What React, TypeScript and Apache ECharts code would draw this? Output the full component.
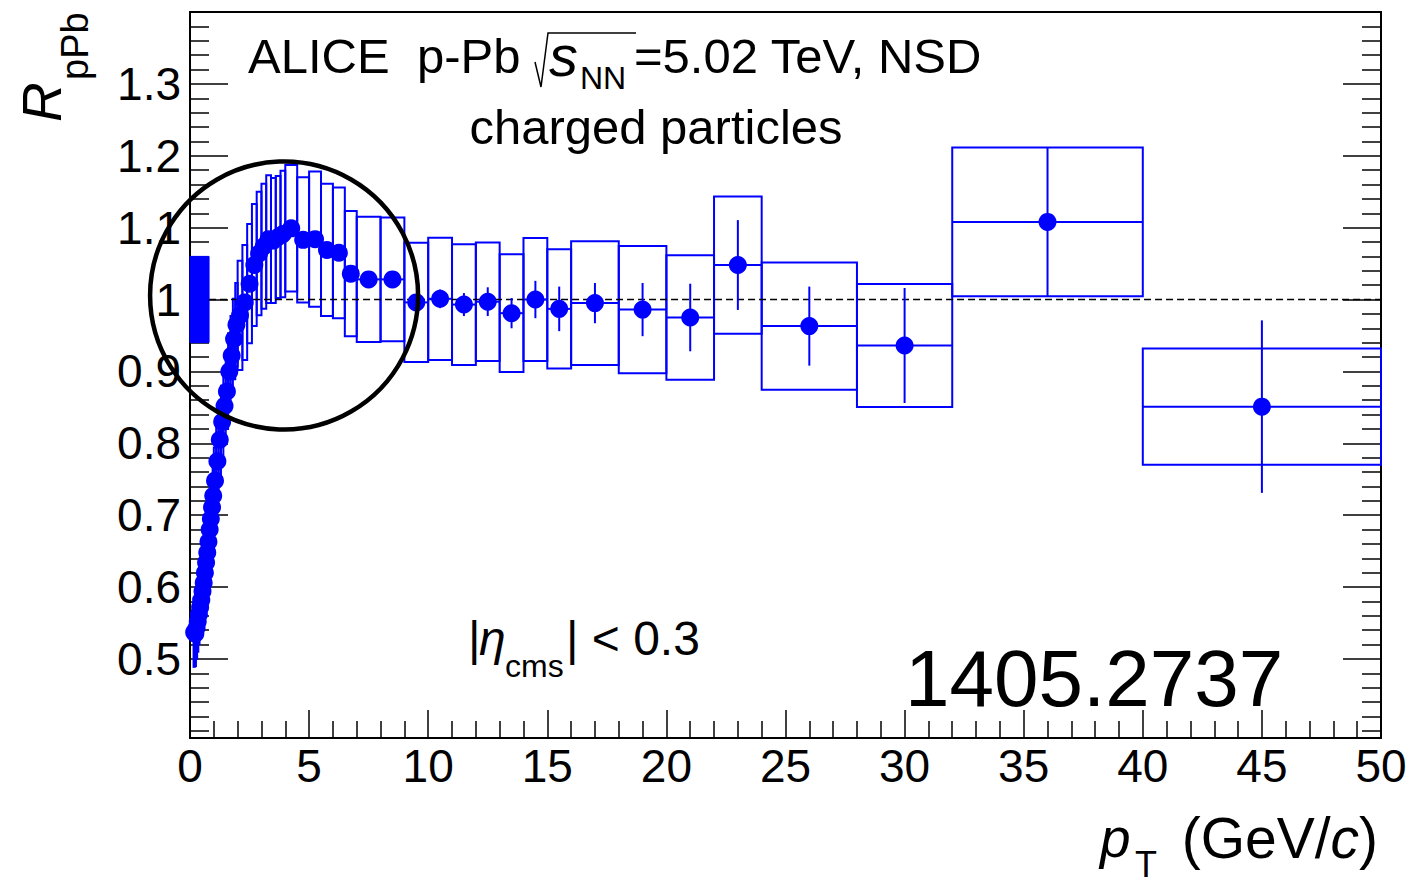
import React, { useEffect, useRef } from 'react';
import * as echarts from 'echarts';

// pT bin edges (GeV/c)
const ptLo = [0.15, 0.2, 0.25, 0.3, 0.35, 0.4, 0.45, 0.5, 0.55, 0.6, 0.65, 0.7, 0.75, 0.8, 0.85, 0.9, 0.95,
  1.0, 1.1, 1.2, 1.3, 1.4, 1.5, 1.6, 1.7, 1.8, 1.9,
  2.0, 2.2, 2.4, 2.6, 2.8, 3.0, 3.2, 3.4, 3.6, 3.8,
  4.0, 4.5, 5.0, 5.5, 6.0, 6.5,
  7, 8, 9, 10, 11, 12, 13, 14, 15,
  16, 18, 20, 22,
  24, 28, 32, 40];
const ptHi = [0.2, 0.25, 0.3, 0.35, 0.4, 0.45, 0.5, 0.55, 0.6, 0.65, 0.7, 0.75, 0.8, 0.85, 0.9, 0.95, 1.0,
  1.1, 1.2, 1.3, 1.4, 1.5, 1.6, 1.7, 1.8, 1.9, 2.0,
  2.2, 2.4, 2.6, 2.8, 3.0, 3.2, 3.4, 3.6, 3.8, 4.0,
  4.5, 5.0, 5.5, 6.0, 6.5, 7.0,
  8, 9, 10, 11, 12, 13, 14, 15, 16,
  18, 20, 22, 24,
  28, 32, 40, 50];
// R_pPb values
const rpPb = [0.537, 0.535, 0.543, 0.552, 0.562, 0.572, 0.582, 0.594, 0.606, 0.620, 0.634, 0.648, 0.663, 0.680, 0.695, 0.711, 0.727,
  0.748, 0.775, 0.805, 0.830, 0.852, 0.872, 0.900, 0.922, 0.945, 0.965,
  0.978, 0.996, 1.022, 1.048, 1.064, 1.074, 1.084, 1.082, 1.087, 1.091,
  1.099, 1.083, 1.084, 1.069, 1.065, 1.036,
  1.028, 1.028, 0.996, 1.001, 0.993, 0.997, 0.981, 1.000, 0.987,
  0.995, 0.986, 0.975, 1.048,
  0.963, 0.936, 1.108, 0.851];
// statistical uncertainties
const statErr = [0.002, 0.002, 0.002, 0.002, 0.002, 0.002, 0.002, 0.002, 0.002, 0.002, 0.002, 0.002, 0.002, 0.002, 0.002, 0.002, 0.002,
  0.002, 0.002, 0.002, 0.002, 0.002, 0.002, 0.002, 0.002, 0.002, 0.002,
  0.003, 0.003, 0.003, 0.003, 0.003, 0.003, 0.003, 0.003, 0.003, 0.003,
  0.004, 0.005, 0.006, 0.007, 0.008, 0.009,
  0.008, 0.009, 0.011, 0.013, 0.016, 0.020, 0.021, 0.026, 0.031,
  0.028, 0.037, 0.047, 0.0625,
  0.055, 0.080, 0.103, 0.120];
// systematic uncertainties
const sysErr = [0.048, 0.045, 0.043, 0.042, 0.041, 0.040, 0.040, 0.040, 0.040, 0.041, 0.041, 0.042, 0.042, 0.043, 0.043, 0.044, 0.045,
  0.046, 0.047, 0.049, 0.050, 0.051, 0.052, 0.053, 0.055, 0.056, 0.058,
  0.076, 0.080, 0.083, 0.085, 0.086, 0.087, 0.089, 0.087, 0.085, 0.088,
  0.088, 0.087, 0.094, 0.092, 0.091, 0.087,
  0.087, 0.086, 0.083, 0.085, 0.084, 0.0825, 0.082, 0.0855, 0.083,
  0.086, 0.0885, 0.0865, 0.0955,
  0.0885, 0.0855, 0.1035, 0.081];
// normalisation uncertainty box: [ptLo, ptHi, centre, half-height]
const normUnc = [0, 0.8, 1, 0.06];
// reference line at unity
const unityLine = [[0.8, 1], [50, 1]];

// axis ticks
const yMajorTicks = [0.5, 0.6, 0.7, 0.8, 0.9, 1.0, 1.1, 1.2, 1.3];
const yMinorTicks: number[] = [];
for (let i = 20; i <= 69; i++) if (i % 5 !== 0 || i === 20) yMinorTicks.push(+(i * 0.02).toFixed(2));

// circle annotation (data centre, pixel radius)
const circleCenter = [3.95, 1.0056];
const circleRadius = 134;

const FONT = '"Liberation Sans", Arial, Helvetica, sans-serif';
const BLUE = '#0000ff';

function txt(text: string, x: number, y: number, size: number, opts: any = {}) {
  return {
    type: 'text',
    x,
    y,
    rotation: opts.rot || 0,
    z: 100,
    silent: true,
    style: {
      text,
      fontSize: size,
      fontFamily: FONT,
      fontStyle: opts.italic ? 'italic' : 'normal',
      fill: '#000',
      align: opts.align || 'left',
      verticalAlign: 'middle',
      rich: opts.rich,
    },
  };
}

export default function App() {
  const ref = useRef<HTMLDivElement>(null);
  useEffect(() => {
    const chart = echarts.init(ref.current!, null, { renderer: 'svg' });
    const bins = ptLo.map((lo, i) => [lo, ptHi[i], rpPb[i], sysErr[i], statErr[i]]);
    const points = ptLo.map((lo, i) => [(lo + ptHi[i]) / 2, rpPb[i]]);

    const yBase = {
      type: 'value',
      min: 0.39,
      max: 1.4,
      splitLine: { show: false },
      axisLabel: { show: false },
    };

    const option: any = {
      animation: false,
      backgroundColor: '#fff',
      grid: {
        left: 190, right: 30, top: 12, bottom: 148,
        show: true, borderColor: '#000', borderWidth: 2,
        outerBoundsMode: 'none',
      },
      xAxis: {
        type: 'value', min: 0, max: 50, interval: 5, position: 'bottom',
        axisLine: { show: true, onZero: false, lineStyle: { color: '#000', width: 2 } },
        axisTick: { show: true, inside: true, length: 28, lineStyle: { color: '#000', width: 1.5 } },
        minorTick: { show: true, splitNumber: 5, length: 17, lineStyle: { color: '#000', width: 1.5 } },
        axisLabel: { color: '#000', fontSize: 46, fontFamily: FONT, margin: 5, showMinLabel: true, showMaxLabel: true },
        splitLine: { show: false },
        minorSplitLine: { show: false },
      },
      yAxis: [
        {
          ...yBase, position: 'left',
          axisLine: { show: true, onZero: false, lineStyle: { color: '#000', width: 2 } },
          axisTick: { show: true, inside: true, length: 38, customValues: yMajorTicks, lineStyle: { color: '#000', width: 1.5 } },
          axisLabel: {
            show: true, color: '#000', fontSize: 46, fontFamily: FONT, margin: 9,
            customValues: yMajorTicks,
            formatter: (v: number) => (Math.abs(v - 1) < 1e-6 ? '1' : v.toFixed(1)),
          },
        },
        {
          ...yBase, position: 'left',
          axisLine: { show: false },
          axisTick: { show: true, inside: true, length: 19, customValues: yMinorTicks, lineStyle: { color: '#000', width: 1.5 } },
        },
        {
          ...yBase, position: 'right',
          axisLine: { show: true, onZero: false, lineStyle: { color: '#000', width: 2 } },
          axisTick: { show: true, inside: true, length: 38, customValues: yMajorTicks, lineStyle: { color: '#000', width: 1.5 } },
        },
        {
          ...yBase, position: 'right',
          axisLine: { show: false },
          axisTick: { show: true, inside: true, length: 19, customValues: yMinorTicks, lineStyle: { color: '#000', width: 1.5 } },
        },
      ],
      series: [
        {
          type: 'custom', name: 'sys', silent: true,
          data: bins,
          encode: { x: [0, 1], y: 2 },
          renderItem: (params: any, api: any) => {
            const lo = api.value(0), hi = api.value(1), v = api.value(2), s = api.value(3);
            const p1 = api.coord([lo, v + s]);
            const p2 = api.coord([hi, v - s]);
            return {
              type: 'rect',
              shape: { x: p1[0], y: p1[1], width: p2[0] - p1[0], height: p2[1] - p1[1] },
              style: { fill: 'none', stroke: BLUE, lineWidth: 2 },
            };
          },
          z: 2,
        },
        {
          type: 'custom', name: 'norm', silent: true,
          data: [normUnc],
          encode: { x: [0, 1], y: 2 },
          renderItem: (params: any, api: any) => {
            const lo = api.value(0), hi = api.value(1), v = api.value(2), s = api.value(3);
            const p1 = api.coord([lo, v + s]);
            const p2 = api.coord([hi, v - s]);
            return {
              type: 'rect',
              shape: { x: p1[0], y: p1[1], width: p2[0] - p1[0], height: p2[1] - p1[1] },
              style: { fill: BLUE, stroke: BLUE, lineWidth: 1 },
            };
          },
          z: 2,
        },
        {
          type: 'line', name: 'unity', silent: true,
          data: unityLine, symbol: 'none',
          lineStyle: { color: '#000', width: 1.6, type: [7, 4] },
          z: 3,
        },
        {
          type: 'custom', name: 'stat', silent: true,
          data: bins,
          encode: { x: [0, 1], y: 2 },
          renderItem: (params: any, api: any) => {
            const lo = api.value(0), hi = api.value(1), v = api.value(2), st = api.value(4);
            const c = (lo + hi) / 2;
            const a = api.coord([lo, v]);
            const b = api.coord([hi, v]);
            const t = api.coord([c, v + st]);
            const u = api.coord([c, v - st]);
            return {
              type: 'group',
              children: [
                { type: 'line', shape: { x1: a[0], y1: a[1], x2: b[0], y2: b[1] }, style: { stroke: BLUE, lineWidth: 2 } },
                { type: 'line', shape: { x1: t[0], y1: t[1], x2: u[0], y2: u[1] }, style: { stroke: BLUE, lineWidth: 2 } },
              ],
            };
          },
          z: 4,
        },
        {
          type: 'scatter', name: 'RpPb', silent: true,
          data: points, symbol: 'circle', symbolSize: 18,
          itemStyle: { color: BLUE, opacity: 1 },
          z: 5,
        },
      ],
    };
    chart.setOption(option);

    const c = chart.convertToPixel({ xAxisIndex: 0, yAxisIndex: 0 }, circleCenter) as number[];
    const graphics: any[] = [
      // y-axis title R_pPb
      txt('R', 42, 122, 55, { italic: true, rot: Math.PI / 2 }),
      txt('pPb', 75, 80, 38, { rot: Math.PI / 2 }),
      // x-axis title p_T (GeV/c)
      txt('p', 1100, 838, 55, { italic: true }),
      txt('T', 1135, 864, 36),
      txt('(GeV/{i|c})', 1378, 838, 57, { align: 'right', rich: { i: { fontStyle: 'italic', fontSize: 57, fontFamily: FONT, fill: '#000' } } }),
      // header
      txt('ALICE', 248, 56, 49),
      txt('p-Pb', 417, 56, 49),
      {
        type: 'polyline', z: 100, silent: true,
        shape: { points: [[535, 62], [541, 87], [548, 33], [636, 33]] },
        style: { stroke: '#000', lineWidth: 1.5, fill: 'none' },
      },
      txt('s', 549, 55, 58, { italic: true }),
      txt('NN', 580, 78, 32),
      txt('=5.02 TeV, NSD', 634, 56, 49),
      txt('charged particles', 656, 127, 49, { align: 'center' }),
      // eta range
      txt('|', 468, 638, 48),
      txt('η', 479, 638, 48, { italic: true }),
      txt('cms', 505, 666, 32),
      txt('| < 0.3', 566, 638, 48),
      // arXiv number
      txt('1405.2737', 905, 678, 80),
      // circle
      {
        type: 'circle', z: 90, silent: true,
        shape: { cx: c[0], cy: c[1], r: circleRadius },
        style: { fill: 'none', stroke: '#000', lineWidth: 4.5 },
      },
    ];
    chart.setOption({ graphic: graphics });
    return () => chart.dispose();
  }, []);
  return <div ref={ref} style={{ position: 'fixed', left: 0, top: 0, width: 1411, height: 886, background: '#fff' }} />;
}
